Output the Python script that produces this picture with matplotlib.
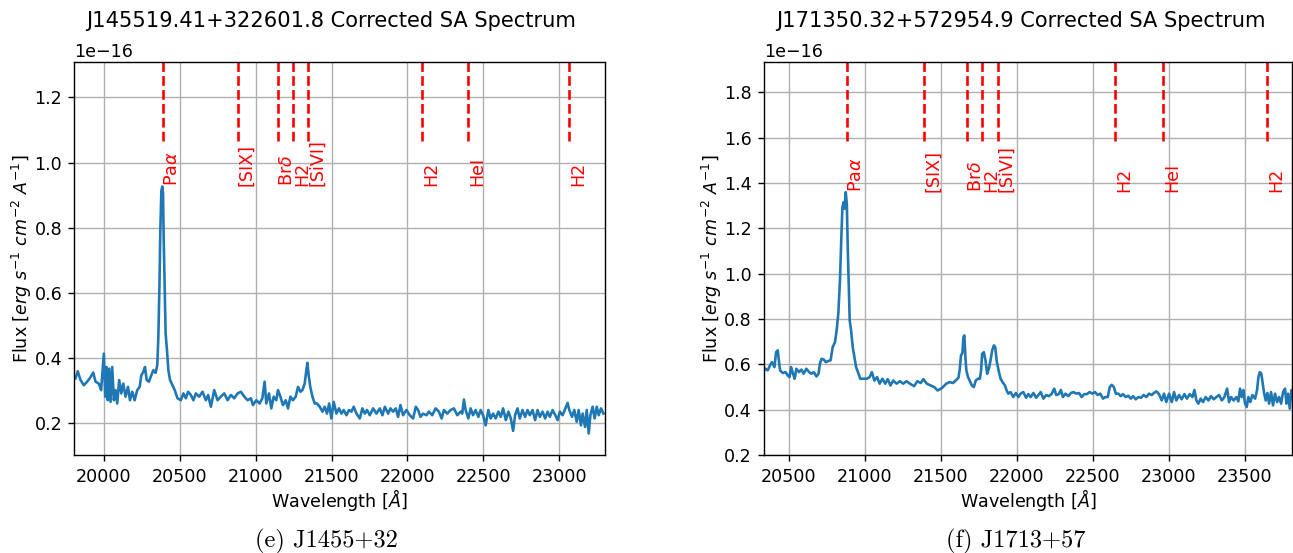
import matplotlib
matplotlib.use("Agg")
import matplotlib.pyplot as plt
import numpy as np

# J1455+32 spectrum (flux in units of 1e-16)
wl_1455 = [19813, 19828, 19846, 19868, 19890, 19907, 19930, 19945, 19967, 19982,
           20000, 20009, 20018, 20026, 20035, 20044, 20055, 20066, 20077, 20088,
           20101, 20115, 20128, 20143, 20159, 20172, 20187, 20203, 20220, 20236,
           20247, 20260, 20271, 20282, 20297, 20313, 20326, 20341, 20352, 20359,
           20366, 20372, 20379, 20385, 20390, 20394, 20401, 20407, 20416, 20425,
           20436, 20452, 20467, 20485, 20507, 20524, 20540, 20555, 20573, 20590,
           20606, 20628, 20650, 20672, 20687, 20705, 20727, 20749, 20771, 20793,
           20815, 20837, 20859, 20881, 20903, 20925, 20947, 20969,
           20982, 21004, 21026, 21044, 21059, 21070, 21088, 21103, 21119, 21136,
           21147, 21163, 21180, 21198, 21213, 21229, 21246, 21264, 21279, 21295,
           21308, 21323, 21334, 21341, 21349, 21360, 21374, 21389, 21404, 21422,
           21440, 21455, 21470, 21484, 21499, 21514, 21532, 21549, 21565, 21580,
           21598, 21615, 21631, 21646, 21664, 21686, 21703, 21719, 21734, 21752,
           21774, 21796, 21818, 21835, 21851, 21873, 21888, 21905, 21923, 21938,
           21954, 21971, 21993, 22015, 22037, 22055, 22070, 22086, 22103, 22125,
           22141, 22163, 22185, 22207, 22225, 22240, 22262, 22284, 22306, 22328,
           22350, 22361, 22372, 22383, 22401, 22416, 22432, 22449, 22467, 22482,
           22498, 22515, 22533, 22548, 22564, 22581, 22599, 22615, 22630, 22648,
           22665, 22681, 22696, 22709, 22725, 22740, 22758, 22775, 22791, 22806,
           22824, 22841, 22857, 22872, 22890, 22907, 22923, 22938, 22956, 22974,
           22989, 23004, 23022, 23040, 23055, 23066, 23084, 23099, 23115, 23128,
           23143, 23154, 23170, 23181, 23194, 23205, 23220, 23233, 23247, 23260,
           23275, 23291]
flux_1455 = [0.338, 0.360, 0.333, 0.317, 0.328, 0.338, 0.356, 0.328, 0.322, 0.302,
             0.414, 0.282, 0.373, 0.271, 0.368, 0.266, 0.373, 0.271, 0.302, 0.261,
             0.333, 0.292, 0.322, 0.282, 0.312, 0.271, 0.297, 0.271, 0.302, 0.312,
             0.348, 0.358, 0.373, 0.333, 0.328, 0.348, 0.363, 0.355, 0.379, 0.465,
             0.618, 0.792, 0.914, 0.927, 0.904, 0.771, 0.618, 0.475, 0.424, 0.363,
             0.333, 0.317, 0.302, 0.277, 0.271, 0.292, 0.277, 0.297, 0.287, 0.271,
             0.292, 0.282, 0.297, 0.271, 0.287, 0.251, 0.302, 0.271, 0.282, 0.292,
             0.271, 0.287, 0.277, 0.292, 0.297, 0.282, 0.271, 0.277,
             0.256, 0.271, 0.261, 0.277, 0.328, 0.261, 0.292, 0.246, 0.282, 0.271,
             0.302, 0.282, 0.256, 0.271, 0.246, 0.282, 0.271, 0.282, 0.312, 0.297,
             0.302, 0.322, 0.363, 0.386, 0.348, 0.312, 0.282, 0.261, 0.261, 0.251,
             0.236, 0.251, 0.230, 0.261, 0.215, 0.266, 0.230, 0.246, 0.230, 0.241,
             0.225, 0.241, 0.236, 0.251, 0.230, 0.215, 0.246, 0.230, 0.241, 0.225,
             0.246, 0.230, 0.246, 0.225, 0.251, 0.230, 0.246, 0.236, 0.246, 0.220,
             0.256, 0.225, 0.241, 0.225, 0.215, 0.251, 0.241, 0.220, 0.230, 0.225,
             0.236, 0.225, 0.246, 0.236, 0.215, 0.241, 0.230, 0.241, 0.246, 0.225,
             0.236, 0.230, 0.273, 0.241, 0.215, 0.246, 0.225, 0.241, 0.220, 0.241,
             0.225, 0.194, 0.241, 0.215, 0.230, 0.215, 0.236, 0.220, 0.246, 0.210,
             0.236, 0.215, 0.177, 0.225, 0.246, 0.215, 0.241, 0.220, 0.241, 0.225,
             0.241, 0.210, 0.241, 0.220, 0.236, 0.215, 0.236, 0.220, 0.241, 0.225,
             0.210, 0.236, 0.225, 0.246, 0.263, 0.241, 0.220, 0.241, 0.205, 0.241,
             0.194, 0.230, 0.189, 0.241, 0.169, 0.225, 0.251, 0.215, 0.251, 0.225,
             0.246, 0.230]

# J1713+57 spectrum (flux in units of 1e-16)
wl_1713 = [20327, 20345, 20361, 20376, 20389, 20405, 20416, 20427, 20434, 20442,
           20460, 20478, 20493, 20504, 20515, 20527, 20538, 20549, 20566, 20582,
           20597, 20615, 20633, 20648, 20664, 20681, 20695, 20704, 20715, 20730,
           20743, 20759, 20774, 20788, 20803, 20814, 20825, 20836, 20845, 20852,
           20861, 20867, 20874, 20881, 20887, 20894, 20900, 20909, 20920, 20931,
           20942, 20954, 20969, 20991, 21013, 21031, 21046, 21062, 21080, 21097,
           21115, 21133, 21150, 21168, 21186, 21208, 21230, 21252, 21274, 21296,
           21323, 21345, 21367, 21385, 21407, 21434, 21456, 21478, 21500,
           21513, 21535, 21557, 21579, 21597, 21615, 21623, 21632, 21641, 21648,
           21654, 21661, 21667, 21678, 21689, 21703, 21716, 21729, 21744, 21756,
           21764, 21771, 21782, 21793, 21804, 21815, 21826, 21837, 21848, 21857,
           21866, 21879, 21892, 21905, 21921, 21932, 21943, 21958, 21976, 21993,
           22009, 22024, 22042, 22060, 22075, 22090, 22108, 22126, 22141, 22156,
           22174, 22192, 22209, 22227, 22245, 22258, 22275, 22289, 22302, 22319,
           22337, 22355, 22372, 22390, 22408, 22425, 22443, 22460, 22478, 22496,
           22513, 22531, 22548, 22566, 22582, 22597, 22610, 22623, 22637, 22650,
           22667, 22682, 22697, 22715, 22732, 22748, 22763, 22781, 22798, 22816,
           22833, 22851, 22868, 22886, 22901, 22917, 22934, 22952, 22967, 22982,
           23000, 23018, 23033, 23048, 23066, 23083, 23101, 23118, 23136, 23154,
           23167, 23180, 23193, 23208, 23224, 23241, 23259, 23276, 23294, 23311,
           23329, 23347, 23364, 23382, 23395, 23408, 23425, 23443, 23456, 23467,
           23478, 23489, 23500, 23511, 23522, 23535, 23548, 23566, 23579, 23588,
           23597, 23607, 23616, 23625, 23636, 23647, 23658, 23671, 23684, 23697,
           23711, 23724, 23737, 23750, 23763, 23772, 23783, 23794, 23805, 23816]
flux_1713 = [0.566, 0.581, 0.574, 0.596, 0.610, 0.588, 0.654, 0.662, 0.618, 0.574,
             0.562, 0.566, 0.551, 0.544, 0.588, 0.559, 0.537, 0.581, 0.566, 0.577,
             0.559, 0.581, 0.566, 0.559, 0.566, 0.547, 0.559, 0.603, 0.625, 0.621,
             0.610, 0.615, 0.618, 0.676, 0.698, 0.750, 0.824, 0.971, 1.162, 1.294,
             1.316, 1.287, 1.360, 1.309, 1.118, 0.941, 0.794, 0.750, 0.676, 0.632,
             0.588, 0.566, 0.537, 0.537, 0.537, 0.544, 0.566, 0.529, 0.544, 0.515,
             0.537, 0.515, 0.535, 0.507, 0.529, 0.515, 0.526, 0.515, 0.526, 0.515,
             0.504, 0.526, 0.518, 0.535, 0.515, 0.507, 0.500, 0.485, 0.493,
             0.500, 0.515, 0.522, 0.518, 0.529, 0.541, 0.574, 0.640, 0.650, 0.721,
             0.728, 0.632, 0.574, 0.544, 0.529, 0.507, 0.500, 0.529, 0.537, 0.537,
             0.574, 0.647, 0.654, 0.618, 0.559, 0.581, 0.618, 0.662, 0.684, 0.676,
             0.618, 0.574, 0.537, 0.522, 0.507, 0.485, 0.471, 0.478, 0.456, 0.474,
             0.456, 0.471, 0.478, 0.453, 0.469, 0.456, 0.474, 0.453, 0.465, 0.478,
             0.449, 0.465, 0.460, 0.469, 0.493, 0.465, 0.469, 0.487, 0.456, 0.471,
             0.460, 0.474, 0.478, 0.471, 0.474, 0.456, 0.469, 0.469, 0.478, 0.471,
             0.478, 0.465, 0.471, 0.449, 0.456, 0.456, 0.500, 0.510, 0.500, 0.471,
             0.471, 0.460, 0.469, 0.456, 0.462, 0.449, 0.460, 0.446, 0.456, 0.453,
             0.465, 0.456, 0.471, 0.465, 0.474, 0.481, 0.469, 0.441, 0.471, 0.434,
             0.471, 0.434, 0.478, 0.441, 0.465, 0.446, 0.469, 0.449, 0.469, 0.456,
             0.487, 0.441, 0.427, 0.449, 0.434, 0.456, 0.441, 0.460, 0.446, 0.456,
             0.465, 0.441, 0.456, 0.493, 0.434, 0.456, 0.441, 0.456, 0.437, 0.493,
             0.456, 0.487, 0.427, 0.412, 0.456, 0.434, 0.465, 0.449, 0.487, 0.544,
             0.566, 0.559, 0.515, 0.474, 0.441, 0.474, 0.427, 0.478, 0.419, 0.471,
             0.434, 0.456, 0.427, 0.478, 0.493, 0.427, 0.471, 0.405, 0.487, 0.456]

line_names = ['Pa$\\alpha$', '[SIX]', 'Br$\\delta$', 'H2', '[SiVI]', 'H2', 'HeI', 'H2']
lines_1455 = [20387, 20881, 21150, 21248, 21347, 22096, 22401, 23063]
lines_1713 = [20883, 21387, 21670, 21771, 21872, 22645, 22961, 23646]

DPI = 126
fig = plt.figure(figsize=(1293 / DPI, 553 / DPI), dpi=DPI)

panels = [
    dict(title="J145519.41+322601.8 Corrected SA Spectrum", caption="(e) J1455+32",
         wl=wl_1455, flux=flux_1455, lines=lines_1455,
         rect=[0.05754, 0.17667, 0.40998, 0.71067],
         xlim=(19806, 23298), ylim=(0.102, 1.308), title_x=0.4833, cap_x=326 / 1293),
    dict(title="J171350.32+572954.9 Corrected SA Spectrum", caption="(f) J1713+57",
         wl=wl_1713, flux=flux_1713, lines=lines_1713,
         rect=[0.59072, 0.17667, 0.40889, 0.71067],
         xlim=(20335, 23812), ylim=(0.199, 1.933), title_x=0.4865, cap_x=1016 / 1293),
]

for p in panels:
    ax = fig.add_axes(p['rect'])
    flux = np.array(p['flux']) * 1e-16
    ax.plot(p['wl'], flux)
    ymax = flux.max()
    # emission line markers
    for lam, name in zip(p['lines'], line_names):
        ax.axvline(lam, ymin=0.8, ymax=1.0, color='r', linestyle='--')
        ax.text(lam, ymax, name, rotation=90, color='r', ha='left', va='bottom')
    ax.set_xlim(*p['xlim'])
    ax.set_ylim(p['ylim'][0] * 1e-16, p['ylim'][1] * 1e-16)
    ax.grid(True)
    ax.set_xlabel(r'Wavelength [$\AA$]', labelpad=1)
    ax.set_ylabel(r'Flux [$erg\ s^{-1}\ cm^{-2}\ A^{-1}$]', labelpad=0)
    ax.set_title(p['title'], x=p['title_x'], pad=9)
    fig.text(p['cap_x'], 12 / 553, p['caption'], fontfamily='cmr10',
             fontsize=14, ha='center', va='center')

fig.savefig("out.png", dpi=DPI)
